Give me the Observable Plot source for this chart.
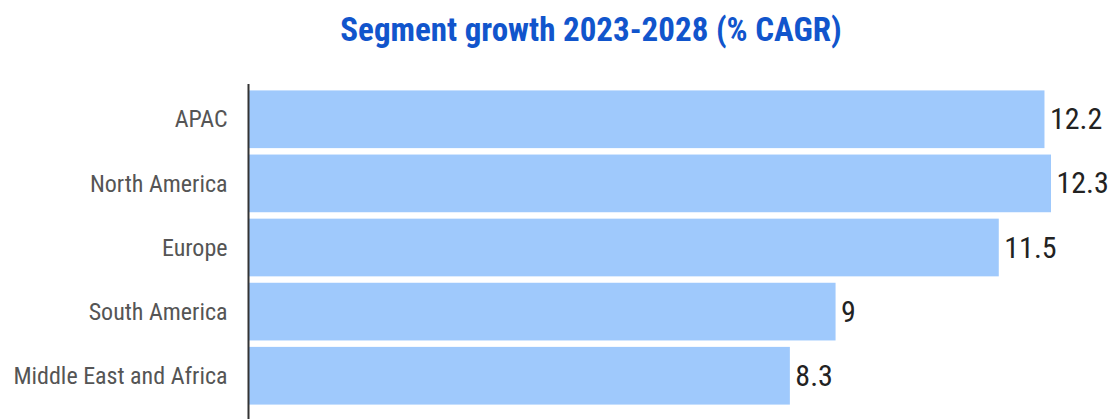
<!DOCTYPE html>
<html>
<head>
<meta charset="utf-8">
<script src="https://cdn.jsdelivr.net/npm/d3@7"></script>
<script src="https://cdn.jsdelivr.net/npm/@observablehq/plot@0.6"></script>
<style>
  html, body { margin: 0; padding: 0; background: #fff; }
  #wrap { width: 1112px; height: 419px; overflow: hidden; }
  #title {
    height: 70px; line-height: 60px; text-align: center;
    font-family: "Roboto Condensed", "Liberation Sans Narrow", "DejaVu Sans Condensed", Roboto, sans-serif;
    font-stretch: condensed;
    font-weight: bold; font-size: 33px; color: #1155cc;
    padding-left: 70px;
  }
  #chart svg { display: block; }
  svg text { font-stretch: condensed; }
</style>
</head>
<body>
<div id="wrap">
  <div id="title">Segment growth 2023-2028 (% CAGR)</div>
  <div id="chart"></div>
</div>
<script>
const regions = ["APAC", "North America", "Europe", "South America", "Middle East and Africa"];
const cagr = [12.2, 12.3, 11.5, 9, 8.3];

const data = regions.map((r, i) => ({region: r, value: cagr[i]}));
const font = '"Roboto Condensed", "Liberation Sans Narrow", "DejaVu Sans Condensed", Roboto, sans-serif';

const chart = Plot.plot({
  width: 1112,
  height: 349,
  marginLeft: 248,
  marginRight: 61,
  marginTop: 14,
  marginBottom: 0,
  style: {fontFamily: font, background: "#fff"},
  x: {domain: [0, d3.max(cagr)], axis: null},
  y: {domain: regions, range: [14, 341], padding: 0.1, round: false, label: null},
  marks: [
    Plot.barX(data, {x: "value", y: "region", fill: "#9fc9fc"}),
    Plot.axisY({tickSize: 0, tickPadding: 21, fontSize: 24, fill: "#555", label: null}),
    Plot.ruleX([0], {stroke: "#333", strokeWidth: 2}),
    Plot.text(data, {x: "value", y: "region", text: d => String(d.value), dx: 5, textAnchor: "start", fontSize: 30, fill: "#222"})
  ]
});
document.getElementById("chart").appendChild(chart);
</script>
</body>
</html>
